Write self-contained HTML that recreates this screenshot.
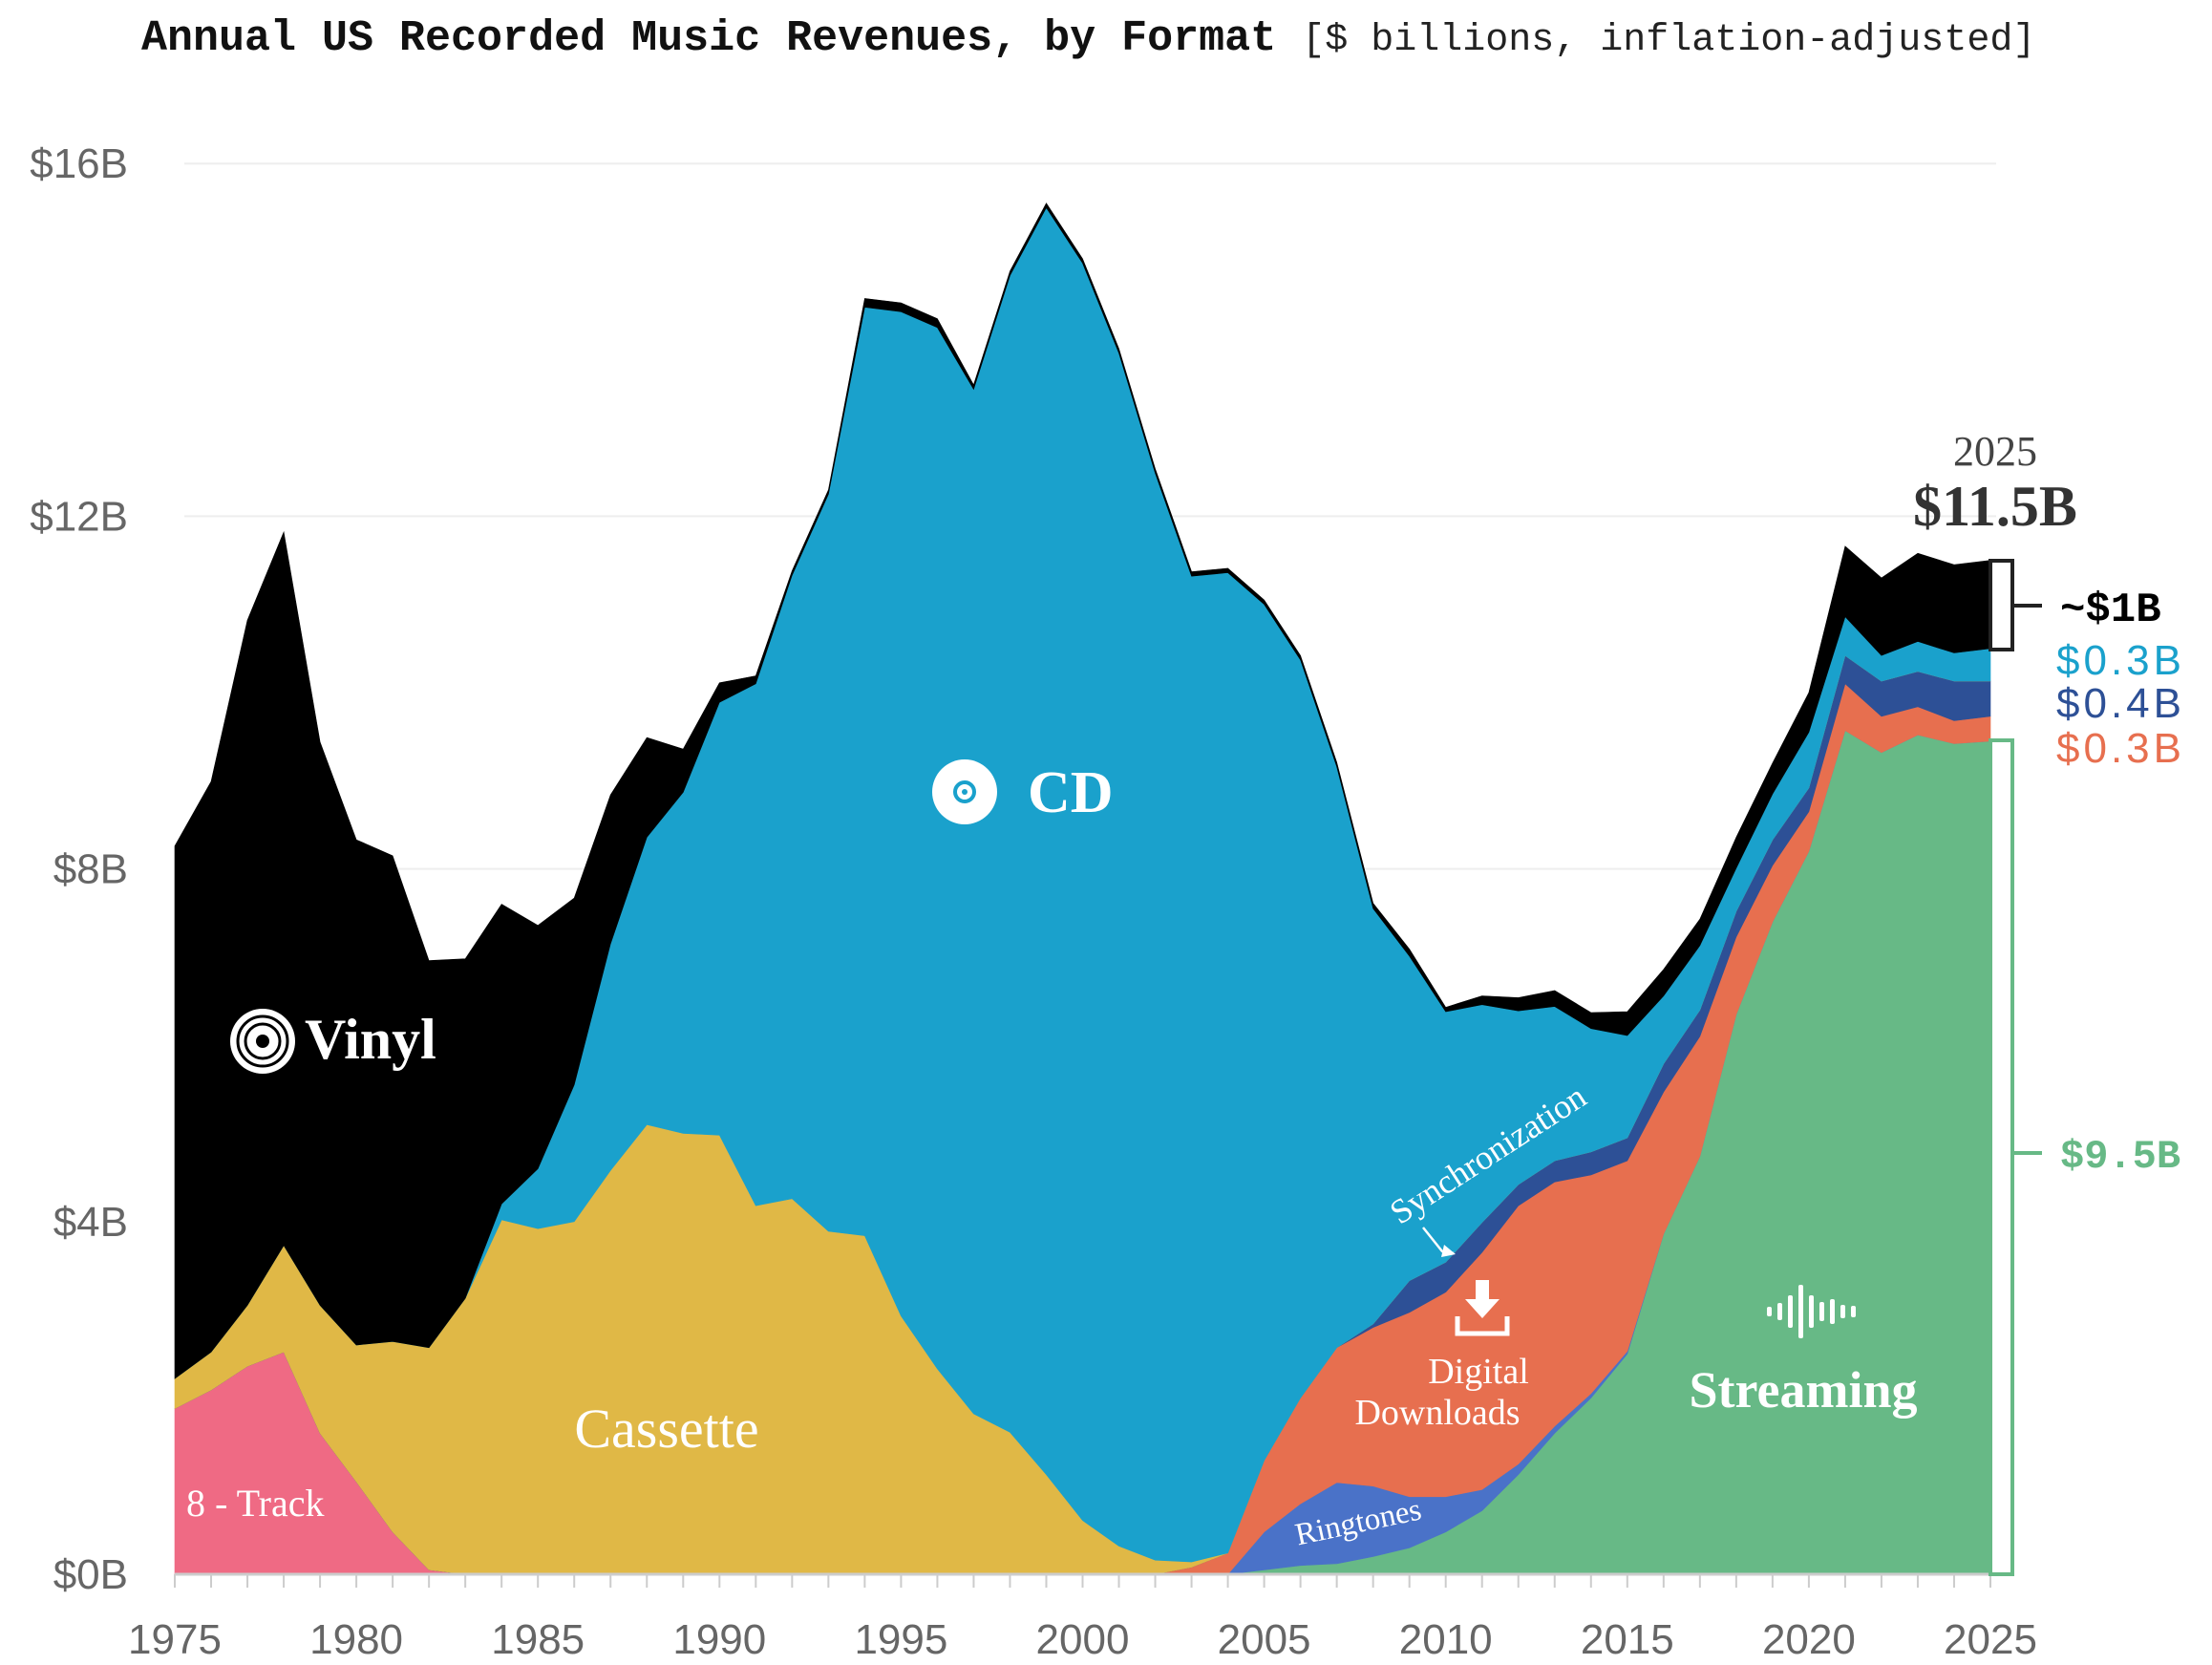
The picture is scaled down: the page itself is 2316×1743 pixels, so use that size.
<!DOCTYPE html>
<html><head><meta charset="utf-8">
<style>
html,body{margin:0;padding:0;background:#fff;}
svg{display:block;}
.mono{font-family:"Liberation Mono",monospace;}
.sans{font-family:"Liberation Sans",sans-serif;}
.serif{font-family:"Liberation Serif",serif;}
</style></head>
<body>
<svg id="chart" width="2316" height="1743" viewBox="0 0 2316 1743" xmlns="http://www.w3.org/2000/svg">
  <text x="148" y="52" class="mono" font-size="45" font-weight="bold" fill="#111">Annual US Recorded Music Revenues, by Format <tspan font-weight="normal" font-size="40" fill="#222">[$ billions, inflation-adjusted]</tspan></text>
  <g id="grid"></g>
  <g id="areas"></g>
  <g id="axes"></g>

  <g>
    <circle cx="275" cy="1090" r="34" fill="#fff"/>
    <circle cx="275" cy="1090" r="26" fill="none" stroke="#000" stroke-width="3"/>
    <circle cx="275" cy="1090" r="18" fill="none" stroke="#000" stroke-width="3"/>
    <circle cx="275" cy="1090" r="7" fill="#000"/>
    <text x="319" y="1108" class="serif" font-size="60" font-weight="bold" fill="#fff">Vinyl</text>
  </g>
  <g>
    <circle cx="1010" cy="829" r="34" fill="#fff"/>
    <circle cx="1010" cy="829" r="10" fill="none" stroke="#1aa1cc" stroke-width="4"/>
    <circle cx="1010" cy="829" r="3" fill="#1aa1cc"/>
    <text x="1076" y="850" class="serif" font-size="62" font-weight="bold" fill="#fff">CD</text>
  </g>
  <text x="698" y="1515" text-anchor="middle" class="serif" font-size="58" fill="#fff">Cassette</text>
  <text x="195" y="1587" class="serif" font-size="40" fill="#fff">8 - Track</text>
  <g>
    <text x="1559" y="1220" text-anchor="middle" class="serif" font-size="36" fill="#fff" transform="rotate(-33 1559 1210)">Synchronization</text>
    <path d="M1490 1285 L1510 1310 L1522 1312" fill="none" stroke="#fff" stroke-width="2.5"/>
    <path d="M1512 1303 L1524 1313 L1509 1316 Z" fill="#fff"/>
  </g>
  <g>
    <rect x="1545" y="1340" width="14" height="22" fill="#fff"/>
    <path d="M1534 1360 L1570 1360 L1552 1380 Z" fill="#fff"/>
    <path d="M1526 1378 L1526 1396 L1578 1396 L1578 1378" fill="none" stroke="#fff" stroke-width="5"/>
    <text x="1548" y="1448" text-anchor="middle" class="serif" font-size="38" fill="#fff">Digital</text>
    <text x="1505" y="1491" text-anchor="middle" class="serif" font-size="38" fill="#fff">Downloads</text>
  </g>
  <text x="1422" y="1604" text-anchor="middle" class="serif" font-size="33" fill="#fff" transform="rotate(-12 1422 1593)">Ringtones</text>
  <g>
    <g id="wave" fill="#fff"></g>
    <text x="1888" y="1473" text-anchor="middle" class="serif" font-size="54" font-weight="bold" fill="#fff">Streaming</text>
  </g>

  <text x="2089" y="487" text-anchor="middle" class="serif" font-size="44" fill="#444">2025</text>
  <text x="2089" y="550" text-anchor="middle" class="serif" font-size="60" font-weight="bold" fill="#333">$11.5B</text>
  <g>
    <rect x="2084" y="587" width="23" height="93" fill="#fff" stroke="#222" stroke-width="4"/>
    <line x1="2107" y1="634" x2="2138" y2="634" stroke="#222" stroke-width="4"/>
    <text x="2157" y="650" class="mono" font-size="44" font-weight="bold" fill="#000">~$1B</text>
  </g>
  <text x="2153" y="706" class="sans" font-size="44" fill="#1aa1cc" letter-spacing="4">$0.3B</text>
  <text x="2153" y="751" class="sans" font-size="44" fill="#2d5096" letter-spacing="4">$0.4B</text>
  <text x="2153" y="798" class="sans" font-size="44" fill="#e76f4f" letter-spacing="4">$0.3B</text>
  <g>
    <rect x="2084" y="775" width="23" height="873" fill="#fff" stroke="#67b986" stroke-width="4"/>
    <line x1="2107" y1="1207" x2="2138" y2="1207" stroke="#67b986" stroke-width="4"/>
    <text x="2157" y="1222" class="mono" font-size="42" font-weight="bold" fill="#67b986">$9.5B</text>
  </g>
</svg>
<script>
const years = [];
for (let y = 1975; y <= 2025; y++) years.push(y);
// rows: 1975-84, 1985-94, 1995-2004, 2005-14, 2015-24, 2025
const eightTrack = [1.88,2.09,2.36,2.52,1.6,1.05,0.48,0.05,0,0,
  0,0,0,0,0,0,0,0,0,0,
  0,0,0,0,0,0,0,0,0,0,
  0,0,0,0,0,0,0,0,0,0,
  0,0,0,0,0,0,0,0,0,0,
  0];
const streaming = [0,0,0,0,0,0,0,0,0,0,
  0,0,0,0,0,0,0,0,0,0,
  0,0,0,0,0,0,0,0,0,0,
  0.05,0.1,0.12,0.2,0.3,0.48,0.72,1.13,1.6,2.0,
  2.5,3.86,4.74,6.35,7.4,8.2,9.57,9.32,9.52,9.42,
  9.45];
const ringtones = [0,0,0,0,0,0,0,0,0,0,
  0,0,0,0,0,0,0,0,0,0,
  0,0,0,0,0,0,0,0,0,0,
  0.43,0.7,0.92,0.8,0.58,0.4,0.24,0.12,0.08,0.05,
  0.03,0,0,0,0,0,0,0,0,0,
  0];
const downloads = [0,0,0,0,0,0,0,0,0,0,
  0,0,0,0,0,0,0,0,0,0,
  0,0,0,0,0,0,0,0,0.08,0.24,
  0.81,1.2,1.53,1.8,2.09,2.32,2.69,2.93,2.77,2.48,
  2.16,1.61,1.36,0.88,0.64,0.45,0.53,0.41,0.32,0.26,
  0.28];
const sync = [0,0,0,0,0,0,0,0,0,0,
  0,0,0,0,0,0,0,0,0,0,
  0,0,0,0,0,0,0,0,0,0,
  0,0,0,0.04,0.36,0.34,0.34,0.24,0.24,0.26,
  0.26,0.32,0.3,0.29,0.29,0.27,0.32,0.4,0.4,0.45,
  0.4];
const cassette = [0.34,0.43,0.69,1.21,1.45,1.55,2.16,2.52,3.13,4.02,
  3.92,4.0,4.58,5.1,5.0,4.98,4.18,4.26,3.89,3.84,
  2.93,2.33,1.82,1.61,1.13,0.61,0.32,0.16,0.06,0,
  0,0,0,0,0,0,0,0,0,0,
  0,0,0,0,0,0,0,0,0,0,
  0];
const cd = [0,0,0,0,0,0,0,0,0,0.18,
  0.68,1.55,2.57,3.26,3.87,4.91,5.92,7.07,8.36,10.53,
  11.39,11.81,11.62,13.12,14.37,14.26,13.53,12.33,11.18,11.12,
  9.71,8.37,6.59,4.71,3.68,2.84,2.47,1.97,1.75,1.4,
  1.16,0.77,0.73,0.49,0.52,0.63,0.44,0.29,0.34,0.32,
  0.37];
const vinyl = [6.04,6.47,7.77,8.09,6.39,5.73,5.51,4.39,3.85,3.4,
  2.76,2.12,1.69,1.13,0.49,0.22,0.09,0.05,0.05,0.1,
  0.1,0.1,0.05,0.05,0.05,0.05,0.05,0.05,0.05,0.05,
  0.05,0.05,0.05,0.06,0.08,0.05,0.1,0.15,0.18,0.18,
  0.27,0.3,0.3,0.35,0.35,0.45,0.8,0.88,1.0,1.0,
  1.0];
const yTicks = [0,4,8,12,16];
const yTickLabels = ["$0B","$4B","$8B","$12B","$16B"];
const xTicks = [1975,1980,1985,1990,1995,2000,2005,2010,2015,2020,2025];

const NS = "http://www.w3.org/2000/svg";
const X0 = 183, X1 = 2084, Y0 = 1648, PERB = 92.3;
function xs(yr){ return X0 + (yr - 1975) * (X1 - X0) / 50; }
function ys(v){ return Y0 - v * PERB; }
function mk(tag, attrs, parent){ const e = document.createElementNS(NS, tag); for (const k in attrs) e.setAttribute(k, attrs[k]); parent.appendChild(e); return e; }

const grid = document.getElementById('grid');
yTicks.forEach((t, i) => {
  if (t > 0) {
    const gl = mk('line', {x1:193, x2:2090, y1:ys(t), y2:ys(t), stroke:'#eeeeee', 'stroke-width':2}, grid);
    
    
  }
  const tl = mk('text', {x:134, y:ys(t)+15, 'text-anchor':'end', 'font-size':44, fill:'#666', 'font-family':'Liberation Sans, sans-serif'}, grid);
  tl.textContent = yTickLabels[i];
  
  
});

const series = [
  {name:'eight-track-area', vals:eightTrack, color:'#ef6a84'},
  {name:'streaming-area', vals:streaming, color:'#67b986'},
  {name:'ringtones-area', vals:ringtones, color:'#4a72c8'},
  {name:'downloads-area', vals:downloads, color:'#e76f4f'},
  {name:'sync-area', vals:sync, color:'#2d5096'},
  {name:'cassette-area', vals:cassette, color:'#e0b846'},
  {name:'cd-area', vals:cd, color:'#1aa1cc'},
  {name:'vinyl-area', vals:vinyl, color:'#000000'}
];
const areas = document.getElementById('areas');
let base = years.map(() => 0);
series.forEach(s => {
  const top = base.map((b, i) => b + (s.vals[i] || 0));
  let pts = years.map((yr, i) => xs(yr).toFixed(1) + ',' + ys(top[i]).toFixed(1));
  for (let i = years.length - 1; i >= 0; i--) pts.push(xs(years[i]).toFixed(1) + ',' + ys(base[i]).toFixed(1));
  const p = mk('polygon', {points: pts.join(' '), fill: s.color, stroke: s.color, 'stroke-width': 0.6}, areas);
  
  
  base = top;
});

const axes = document.getElementById('axes');
const ax = mk('line', {x1:X0, x2:X1, y1:Y0, y2:Y0, stroke:'#cccccc', 'stroke-width':3}, axes);


years.forEach(yr => {
  const tk = mk('line', {x1:xs(yr), x2:xs(yr), y1:Y0, y2:Y0+14, stroke:'#cccccc', 'stroke-width':2}, axes);
  
  
});
xTicks.forEach(yr => {
  const t = mk('text', {x:xs(yr), y:1731, 'text-anchor':'middle', 'font-size':44, fill:'#666', 'font-family':'Liberation Sans, sans-serif'}, axes);
  t.textContent = String(yr);
  
  
});

const wave = document.getElementById('wave');
const bars = [10,18,34,56,34,20,26,14,12];
bars.forEach((h, i) => {
  const b = mk('rect', {x:1850 + i*11, y:1373 - h/2, width:5, height:h, rx:2}, wave);
  
  
});
</script>
</body></html>
